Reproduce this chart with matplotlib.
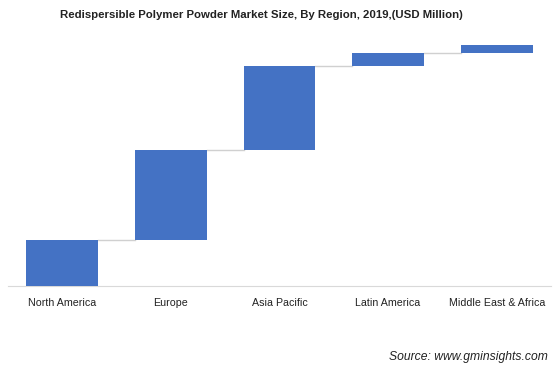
import numpy as np
import matplotlib.pyplot as plt

plt.rcParams['font.family'] = ['Liberation Sans', 'DejaVu Sans']

regions = ['North America', 'Europe', 'Asia Pacific', 'Latin America', 'Middle East & Africa']
values = [460, 900, 840, 130, 80]

bar_color = '#4472c4'
line_color = '#d0d0d0'

fig = plt.figure(figsize=(5.59, 3.78), dpi=100)
ax = fig.add_axes([8 / 559, (378 - 286) / 378, 543 / 559, 246 / 378])

x = np.arange(len(regions))
bottoms = np.concatenate([[0], np.cumsum(values)[:-1]])
width = 0.66
ax.bar(x, values, bottom=bottoms, width=width, color=bar_color, zorder=3)

# connectors between the bars
tops = bottoms + np.array(values)
for i in range(len(regions) - 1):
    ax.plot([x[i] + width / 2, x[i + 1] - width / 2], [tops[i], tops[i]],
            color=line_color, lw=1, zorder=2)

ax.set_xlim(-0.5, len(regions) - 0.5)
ax.set_ylim(0, 2460)
ax.set_xticks(x)
ax.set_xticklabels(regions, fontsize=7.7, color='#222222')
ax.tick_params(axis='x', length=0, pad=9)
ax.set_yticks([])
for side in ['top', 'right', 'left']:
    ax.spines[side].set_visible(False)
ax.spines['bottom'].set_color('#d9d9d9')

fig.text(261 / 559, 1 - 15 / 378, 'Redispersible Polymer Powder Market Size, By Region, 2019,(USD Million)',
         ha='center', va='center', fontsize=8.2, fontweight='bold', color='#222222')
fig.text(548 / 559, 1 - 357 / 378, 'Source: www.gminsights.com', ha='right', va='center',
         fontsize=8.7, style='italic', color='#222222')

plt.savefig('out.png', dpi=100)
